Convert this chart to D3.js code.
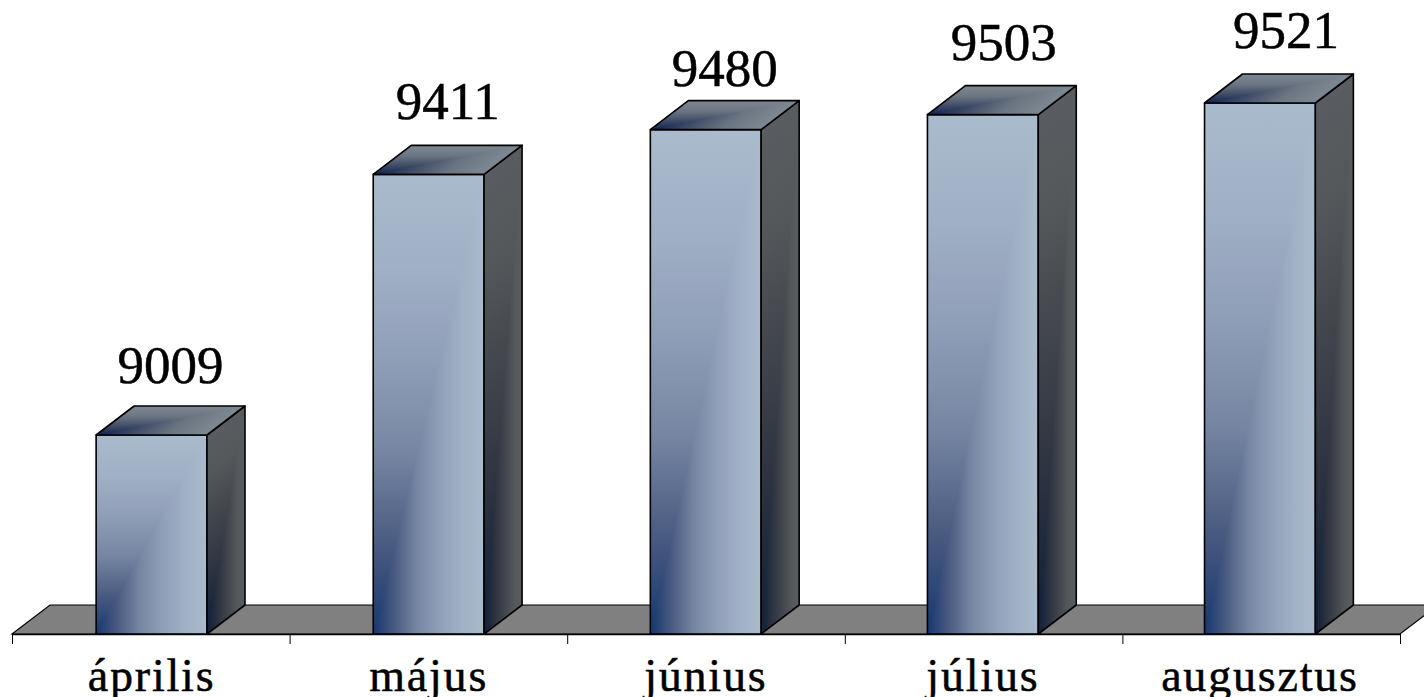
<!DOCTYPE html>
<html>
<head>
<meta charset="utf-8">
<script src="https://cdn.jsdelivr.net/npm/d3@7"></script>
<style>
body { margin: 0; background: #fff; overflow: hidden; }
text { font-family: "Liberation Serif", serif; fill: #000; stroke: #000; stroke-width: 0.5; }
</style>
</head>
<body>
<div id="chart"></div>
<script>
// data
var months = ['április', 'május', 'június', 'július', 'augusztus']
var values = [9009, 9411, 9480, 9503, 9521]

// hand placed value labels in the original, [x, y] away from the default spot
var nudge = [[0, -1], [0, -4], [0, 7], [2, -4], [7, -4]]

// svg dimensions
var w = 1424,
    h = 697,
    left = 12,
    right = 1400,
    base = 634,
    dx = 38,
    dy = 29

var svg = d3.select('#chart')
    .append('svg')
    .attr('width', w)
    .attr('height', h)
    .style('display', 'block')

// scale
var xscale = d3.scaleBand()
    .domain(months)
    .range([left + 1, right - 1.5])
    .paddingInner(0.6)
    .paddingOuter(0.3)

var edges = d3.scaleLinear()
    .domain([0, months.length])
    .range([left, right])

var yscale = d3.scaleLinear()
    .domain([9009, 9521])
    .range([435, 103])

// gradients, one pair per face: colour runs out from a corner of the face
var defs = svg.append('defs')
var faces = {
    front: [[0, '#16376f'], [0.18, '#47587f'], [0.4, '#7787a3'], [0.6, '#909fb8'], [0.8, '#a0b0c6'], [1, '#a9bbcc']],
    side: [[0, '#0f1e38'], [0.3, '#2d3340'], [0.6, '#45494f'], [0.8, '#55585b'], [1, '#595c60']],
    top: [[0, '#122352'], [0.35, '#46526b'], [0.65, '#6c7683'], [1, '#7d8992']]
}
Object.keys(faces).forEach(name => {
    ;[['h', 0, 0, 1, 0], ['v', 0, 1, 0, 0]].forEach(g => {
        var grad = defs.append('linearGradient')
            .attr('id', name + '-' + g[0])
            .attr('x1', g[1]).attr('y1', g[2])
            .attr('x2', g[3]).attr('y2', g[4])
        faces[name].forEach(s => {
            grad.append('stop').attr('offset', s[0]).attr('stop-color', s[1])
        })
    })
})

// floor
var floor = [[left, base], [left + dx, base - dy], [right + dx, base - dy], [right, base]]
svg.append('polygon')
    .attr('points', floor.join(' '))
    .attr('fill', '#808080')
    .attr('stroke', '#000')
    .attr('stroke-width', 1.2)

// one face of a bar: unit square mapped on to a parallelogram
function face(g, name, o, a, b) {
    var f = g.append('g')
        .attr('transform', `matrix(${a[0]},${a[1]},${b[0]},${b[1]},${o[0]},${o[1]})`)
    f.append('rect')
        .attr('width', 1).attr('height', 1)
        .attr('fill', `url(#${name}-h)`)
    f.append('path')
        .attr('d', 'M0,0L1,0L0,1Z')
        .attr('fill', `url(#${name}-v)`)
    g.append('polygon')
        .attr('points', [o, [o[0] + a[0], o[1] + a[1]],
            [o[0] + a[0] + b[0], o[1] + a[1] + b[1]], [o[0] + b[0], o[1] + b[1]]].join(' '))
        .attr('fill', 'none')
        .attr('stroke', '#000')
        .attr('stroke-width', 1.6)
        .attr('stroke-linejoin', 'round')
}

// draw the bars
var bars = svg.selectAll('g.bar')
    .data(values)
    .enter()
    .append('g')
    .attr('class', 'bar')

bars.each(function (d, i) {
    var g = d3.select(this),
        x0 = xscale(months[i]),
        x1 = x0 + xscale.bandwidth(),
        y0 = yscale(d),
        bh = base - y0,
        bw = x1 - x0
    // origin is the top left of the square, the v gradient goes bottom to top
    face(g, 'front', [x0, y0], [bw, 0], [0, bh])
    face(g, 'side', [x1, y0], [dx, -dy], [0, bh])
    face(g, 'top', [x0 + dx, y0 - dy], [bw, 0], [-dx, dy])
})

// value labels
svg.selectAll('text.value')
    .data(values)
    .enter()
    .append('text')
    .attr('class', 'value')
    .attr('x', (d, i) => xscale(months[i]) + xscale.bandwidth() / 2 + dx / 2 + nudge[i][0])
    .attr('y', (d, i) => yscale(d) - 51 + nudge[i][1])
    .attr('text-anchor', 'middle')
    .attr('font-size', 53)
    .text(d => d)

// axis
var ticks = d3.axisBottom(edges)
    .tickValues(d3.range(months.length + 1))
    .tickFormat('')
    .tickSize(10)
    .tickSizeOuter(0)

svg.append('g')
    .attr('transform', `translate(0,${base})`)
    .call(ticks)
    .call(g => g.select('.domain').attr('stroke-width', 1.6))

var labels = d3.axisBottom(xscale)
    .tickSize(0)
    .tickPadding(57)

svg.append('g')
    .attr('transform', `translate(0,${base})`)
    .call(labels)
    .call(g => g.select('.domain').remove())
    .call(g => g.selectAll('text')
        .attr('dy', 0)
        .attr('font-size', 46)
        .attr('letter-spacing', 1.8)
        .style('font-family', '"Liberation Serif", serif'))
</script>
</body>
</html>
